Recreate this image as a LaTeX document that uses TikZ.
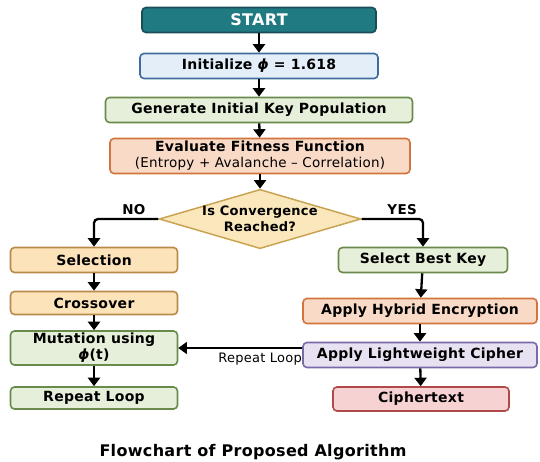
\documentclass[tikz,border=0pt]{standalone}
\usepackage{fontspec}
\setmainfont[LetterSpace=2]{DejaVu Sans}
\usetikzlibrary{arrows.meta,positioning,shapes.geometric}
\definecolor{tealf}{HTML}{1F7A82}
\definecolor{tealb}{HTML}{1A4E56}
\definecolor{bluef}{HTML}{E4EEF8}
\definecolor{blueb}{HTML}{3F6C9C}
\definecolor{greenf}{HTML}{E5EFD9}
\definecolor{greenb}{HTML}{6A8A4C}
\definecolor{salmf}{HTML}{F9DAC6}
\definecolor{salmb}{HTML}{D2743E}
\definecolor{sandf}{HTML}{FBE7BC}
\definecolor{sandb}{HTML}{C9A452}
\definecolor{orgf}{HTML}{FCE3BA}
\definecolor{orgb}{HTML}{B98A4C}
\definecolor{lilf}{HTML}{E8E1F1}
\definecolor{lilb}{HTML}{7A69A8}
\definecolor{rosef}{HTML}{F6D2D2}
\definecolor{roseb}{HTML}{B04A4A}

\begin{document}
\begin{tikzpicture}[x=1pt,y=-1pt,>={Triangle[length=8.5pt,width=12pt]},
 b/.style={draw,rounded corners=4pt,line width=1.6pt,align=center,inner sep=1pt,
 minimum height=25pt,font=\bfseries\fontsize{14}{16}\selectfont},
 d/.style={diamond,draw=sandb,fill=sandf,line width=1.5pt,align=center,inner sep=0pt,
 minimum width=194pt,minimum height=58pt,aspect=3.4,font=\bfseries\fontsize{13}{15.5}\selectfont},
 a/.style={->,line width=2.3pt},
 l/.style={font=\bfseries\fontsize{13.5}{15}\selectfont}]
\useasboundingbox (0,0) rectangle (540,461);
\node[b,fill=tealf,draw=tealb,text=white,minimum width=234pt,
 font=\bfseries\fontsize{16}{18}\selectfont] (start) at (259,20) {START};
\node[b,fill=bluef,draw=blueb,minimum width=238pt] (init) at (259,66) {Initialize {\itshape ϕ} = 1.618};
\node[b,fill=greenf,draw=greenb,minimum width=307pt] (gen) at (259,110) {Generate Initial Key Population};
\node[b,fill=salmf,draw=salmb,minimum width=300pt,minimum height=35pt] (eval) at (260,156)
 {Evaluate Fitness Function\\{\mdseries\fontsize{13.5}{15}\selectfont (Entropy + Avalanche – Correlation)}};
\node[d] (conv) at (260,219) {Is Convergence\\Reached?};
% left branch
\node[b,fill=orgf,draw=orgb,minimum width=167pt] (sel) at (94,260) {Selection};
\node[b,fill=orgf,draw=orgb,minimum width=167pt,minimum height=23pt] (cross) at (94,303) {Crossover};
\node[b,fill=greenf,draw=greenb,minimum width=167pt,minimum height=34pt] (mut) at (94,348) {Mutation using\\{\itshape ϕ}(t)};
\node[b,fill=greenf,draw=greenb,minimum width=167pt,minimum height=22pt] (rep) at (94,398) {Repeat Loop};
% right branch
\node[b,fill=greenf,draw=greenb,minimum width=169pt] (best) at (423,260) {Select Best Key};
\node[b,fill=salmf,draw=salmb,minimum width=234pt] (hyb) at (420,311) {Apply Hybrid Encryption};
\node[b,fill=lilf,draw=lilb,minimum width=234pt] (light) at (420,355) {Apply Lightweight Cipher};
\node[b,fill=rosef,draw=roseb,minimum width=176pt,minimum height=24pt] (ciph) at (421,399) {Ciphertext};
\node[font=\bfseries\fontsize{16}{18}\selectfont] (title) at (253,452) {Flowchart of Proposed Algorithm};
% connectors
\draw[a] (start)--(init); \draw[a] (init)--(gen); \draw[a] (gen)--(eval); \draw[a] (eval)--(conv);
\draw[a,rounded corners=4pt] (conv.west) -| node[l,pos=0.19,above] {NO} (sel);
\draw[a,rounded corners=4pt] (conv.east) -| node[l,pos=0.33,above] {YES} (best);
\draw[a] (sel)--(cross); \draw[a] (cross)--(mut); \draw[a] (mut)--(rep);
\draw[a] (best)--(hyb); \draw[a] (hyb)--(light); \draw[a] (light)--(ciph);
\draw[->,line width=1.1pt] (mut.east -| light.west) -- node[pos=0.34,below=1pt,font=\fontsize{13}{15}\selectfont] {Repeat Loop} (mut.east);
\end{tikzpicture}
\end{document}
